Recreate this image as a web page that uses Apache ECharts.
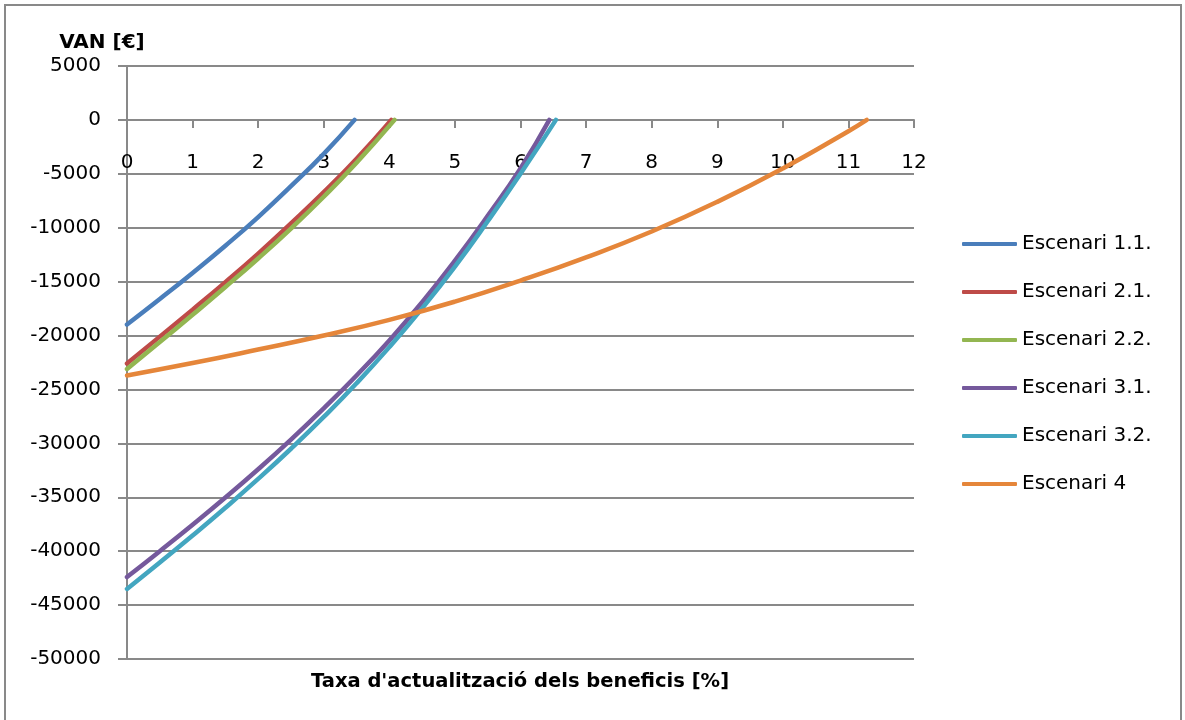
<!DOCTYPE html>
<html>
<head>
<meta charset="utf-8">
<script src="https://cdn.jsdelivr.net/npm/echarts@6/dist/echarts.min.js"></script>
<style>
html,body{margin:0;padding:0;background:#fff;}
#chart{width:1185px;height:720px;}
</style>
</head>
<body>
<div id="chart"></div>
<script>
// Discount rate (%) and NPV (€)
const seriesNames = ['Escenari 1.1.', 'Escenari 2.1.', 'Escenari 2.2.', 'Escenari 3.1.', 'Escenari 3.2.', 'Escenari 4'];

const rates11 = [0, 0.5, 1, 1.5, 2, 2.5, 3, 3.47];
const van11   = [-18980, -16610, -14190, -11670, -9010, -6150, -3150, 0];

const rates21 = [0, 0.5, 1, 1.5, 2, 2.5, 3, 3.5, 4.03];
const van21   = [-22600, -20100, -17600, -15050, -12400, -9600, -6700, -3600, 0];

const rates22 = [0, 0.5, 1, 1.5, 2, 2.5, 3, 3.5, 4.08];
const van22   = [-23100, -20600, -18075, -15500, -12850, -10075, -7125, -3975, 0];

const rates31 = [0, 0.5, 1, 1.5, 2, 2.5, 3, 3.5, 4, 4.5, 5, 5.5, 6, 6.44];
const van31   = [-42400, -40000, -37550, -35025, -32400, -29650, -26750, -23700, -20450, -16900, -13050, -8900, -4500, 0];

const rates32 = [0, 0.5, 1, 1.5, 2, 2.5, 3, 3.5, 4, 4.5, 5, 5.5, 6, 6.54];
const van32   = [-43500, -41050, -38550, -35975, -33300, -30500, -27550, -24425, -21075, -17475, -13600, -9400, -5000, 0];

const rates4 = [0, 1, 2, 3, 4, 5, 6, 7, 8, 9, 10, 11, 11.28];
const van4   = [-23700, -22550, -21300, -20000, -18550, -16850, -14900, -12750, -10350, -7600, -4500, -1050, 0];

const xTicks = [0, 1, 2, 3, 4, 5, 6, 7, 8, 9, 10, 11, 12];
const yTicks = [5000, 0, -5000, -10000, -15000, -20000, -25000, -30000, -35000, -40000, -45000, -50000];

const colors = ['#4a7ebb', '#be4b48', '#93b651', '#75599c', '#43a6c0', '#e5863a'];

const zip = (xs, ys) => xs.map((x, i) => [x, ys[i]]);
const dataSets = [zip(rates11, van11), zip(rates21, van21), zip(rates22, van22),
                  zip(rates31, van31), zip(rates32, van32), zip(rates4, van4)];

const FONT = 'DejaVu Sans';
const GRAY = '#898989';

// plot box
const GRID = {left: 127, right: 271, top: 66, bottom: 61};
const plotH = 720 - GRID.top - GRID.bottom;
const yMin = yTicks[yTicks.length - 1], yMax = yTicks[0];
// move the x axis from the bottom of the plot up to the value 0
const xAxisOffset = -plotH * (0 - yMin) / (yMax - yMin);

const chart = echarts.init(document.getElementById('chart'), null, {renderer: 'canvas'});
chart.setOption({
  animation: false,
  backgroundColor: '#fff',
  color: colors,
  grid: Object.assign({containLabel: false}, GRID),
  xAxis: {
    type: 'value',
    min: xTicks[0],
    max: xTicks[xTicks.length - 1],
    interval: 1,
    position: 'bottom',
    offset: xAxisOffset,
    axisLine: {show: true, onZero: false, lineStyle: {color: GRAY, width: 2}},
    axisTick: {show: true, length: 8, lineStyle: {color: GRAY, width: 2}},
    axisLabel: {color: '#000', fontFamily: FONT, fontSize: 20, margin: 33},
    splitLine: {show: false}
  },
  yAxis: {
    type: 'value',
    min: yMin,
    max: yMax,
    interval: 5000,
    name: 'VAN [€]',
    nameLocation: 'end',
    nameGap: 13,
    nameTextStyle: {color: '#000', fontFamily: FONT, fontSize: 20, fontWeight: 'bold', padding: [0, 50, 0, 0]},
    axisLine: {show: true, onZero: false, lineStyle: {color: GRAY, width: 2}},
    axisTick: {show: true, length: 9, lineStyle: {color: GRAY, width: 2}},
    axisLabel: {color: '#000', fontFamily: FONT, fontSize: 20, margin: 26, formatter: v => String(v)},
    splitLine: {show: true, lineStyle: {color: GRAY, width: 2}}
  },
  legend: {
    orient: 'vertical',
    left: 957,
    top: 229,
    itemWidth: 55,
    itemHeight: 4,
    itemGap: 28,
    icon: 'roundRect',
    textStyle: {color: '#000', fontFamily: FONT, fontSize: 20, lineHeight: 20},
    data: seriesNames
  },
  graphic: [
    {type: 'rect', silent: true, z: -1,
     shape: {x: 5, y: 5, width: 1176, height: 720},
     style: {fill: 'none', stroke: GRAY, lineWidth: 2}},
    {type: 'text', silent: true,
     x: 520, y: 682,
     style: {text: "Taxa d'actualització dels beneficis [%]", align: 'center', verticalAlign: 'middle',
             font: 'bold 19.5px "DejaVu Sans"', fill: '#000'}}
  ],
  series: dataSets.map((d, i) => ({
    name: seriesNames[i],
    type: 'line',
    data: d,
    smooth: true,
    showSymbol: false,
    symbol: 'none',
    lineStyle: {width: 4.5, color: colors[i], cap: 'round'},
    itemStyle: {color: colors[i]}
  }))
});
</script>
</body>
</html>
